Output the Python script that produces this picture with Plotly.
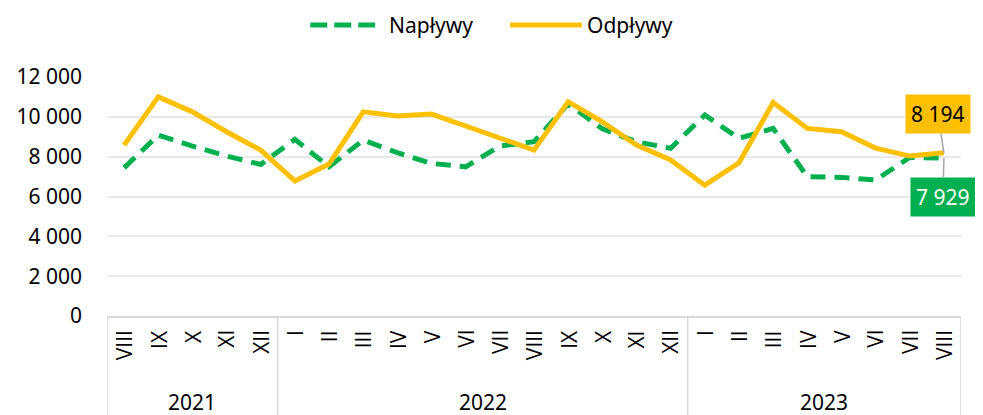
import plotly.graph_objects as go

years = ["2021"] * 5 + ["2022"] * 12 + ["2023"] * 8
months = ["VIII", "IX", "X", "XI", "XII",
          "I", "II", "III", "IV", "V", "VI", "VII", "VIII", "IX", "X", "XI", "XII",
          "I", "II", "III", "IV", "V", "VI", "VII", "VIII"]

naplywy = [7440, 9080, 8530, 8030, 7610,
           8870, 7490, 8830, 8200, 7660, 7490, 8530, 8750, 10650, 9400, 8750, 8420,
           10090, 8920, 9420, 6990, 6960, 6830, 7960, 7929]
odplywy = [8580, 11000, 10250, 9250, 8330,
           6780, 7630, 10250, 10040, 10140, 9540, 8930, 8330, 10760, 9750, 8580, 7830,
           6570, 7690, 10720, 9420, 9250, 8430, 8030, 8194]

GREEN = "#00B050"
ORANGE = "#FFC000"
GREY = "#D9D9D9"
FONT = "Noto Sans"

# unique category keys, month shown as rotated label
cats = [f"{y} {m}" for y, m in zip(years, months)]

fig = go.Figure()
fig.add_trace(go.Scatter(x=cats, y=naplywy, name="Napływy", mode="lines",
                         line=dict(color=GREEN, width=5, dash="15px,9px")))
fig.add_trace(go.Scatter(x=cats, y=odplywy, name="Odpływy", mode="lines",
                         line=dict(color=ORANGE, width=5)))


def fmt(v):
    return f"{v:,}".replace(",", " ")


# data labels on the last points
fig.add_annotation(x=cats[-1], y=odplywy[-1], text=fmt(odplywy[-1]),
                   ax=-6, ay=-39, showarrow=True, arrowhead=0,
                   arrowcolor="#A6A6A6", arrowwidth=1.5, standoff=0,
                   bgcolor=ORANGE, borderpad=5,
                   font=dict(size=21, color="black", family=FONT))
fig.add_annotation(x=cats[-1], y=naplywy[-1], text=fmt(naplywy[-1]),
                   ax=-1, ay=39, showarrow=True, arrowhead=0,
                   arrowcolor="#A6A6A6", arrowwidth=1.5, standoff=0,
                   bgcolor=GREEN, borderpad=5,
                   font=dict(size=21, color="white", family=FONT))

# month labels, rotated and hanging from the axis
for c, m in zip(cats, months):
    fig.add_annotation(x=c, y=-0.055, xref="x", yref="paper", text=m,
                       textangle=-90, xanchor="center", yanchor="top",
                       showarrow=False, borderpad=0,
                       font=dict(size=21, family="Open Sans"))

# year group labels and dividers below the month labels
groups = []
for i, y in enumerate(years):
    if not groups or groups[-1][0] != y:
        groups.append([y, i, i])
    else:
        groups[-1][2] = i
for y, a, b in groups:
    fig.add_annotation(x=(a + b) / 2, y=-0.36, xref="x", yref="paper",
                       yanchor="middle", text=y, showarrow=False,
                       font=dict(size=21, family=FONT))
    fig.add_shape(type="line", xref="x", yref="paper", x0=a - 0.5, x1=a - 0.5,
                  y0=0, y1=-0.45, line=dict(color=GREY, width=1.5))
fig.add_shape(type="line", xref="x", yref="paper", x0=len(cats) - 0.5,
              x1=len(cats) - 0.5, y0=0, y1=-0.45, line=dict(color=GREY, width=1.5))

# legend drawn by hand to get the long line samples
fig.add_shape(type="line", xref="paper", yref="paper", x0=0.238, x1=0.314,
              y0=1.218, y1=1.218, line=dict(color=GREEN, width=5, dash="17px,7px"))
fig.add_annotation(x=0.328, y=1.218, xref="paper", yref="paper", text="Napływy",
                   xanchor="left", yanchor="middle", showarrow=False,
                   font=dict(size=21, family=FONT))
fig.add_shape(type="line", xref="paper", yref="paper", x0=0.472, x1=0.556,
              y0=1.218, y1=1.218, line=dict(color=ORANGE, width=5))
fig.add_annotation(x=0.56, y=1.218, xref="paper", yref="paper", text="Odpływy",
                   xanchor="left", yanchor="middle", showarrow=False,
                   font=dict(size=21, family=FONT))

fig.update_layout(
    width=975, height=407,
    margin=dict(l=99, r=22, t=69, b=99, autoexpand=False),
    paper_bgcolor="white", plot_bgcolor="white",
    font=dict(family=FONT, size=21, color="#000000"),
    separators=", ",
    showlegend=False,
)
fig.update_yaxes(range=[0, 12000], dtick=2000, tickformat=",d",
                 showgrid=True, gridcolor="#E9E9E9", gridwidth=1.5,
                 zeroline=False, showline=False, ticks="",
                 ticklabelstandoff=24, automargin=False)
fig.update_xaxes(type="category", range=[-0.5, len(cats) - 0.5],
                 showticklabels=False, showline=True, linecolor=GREY,
                 linewidth=1.5, showgrid=False, ticks="", automargin=False)

fig.write_html("out.html")
